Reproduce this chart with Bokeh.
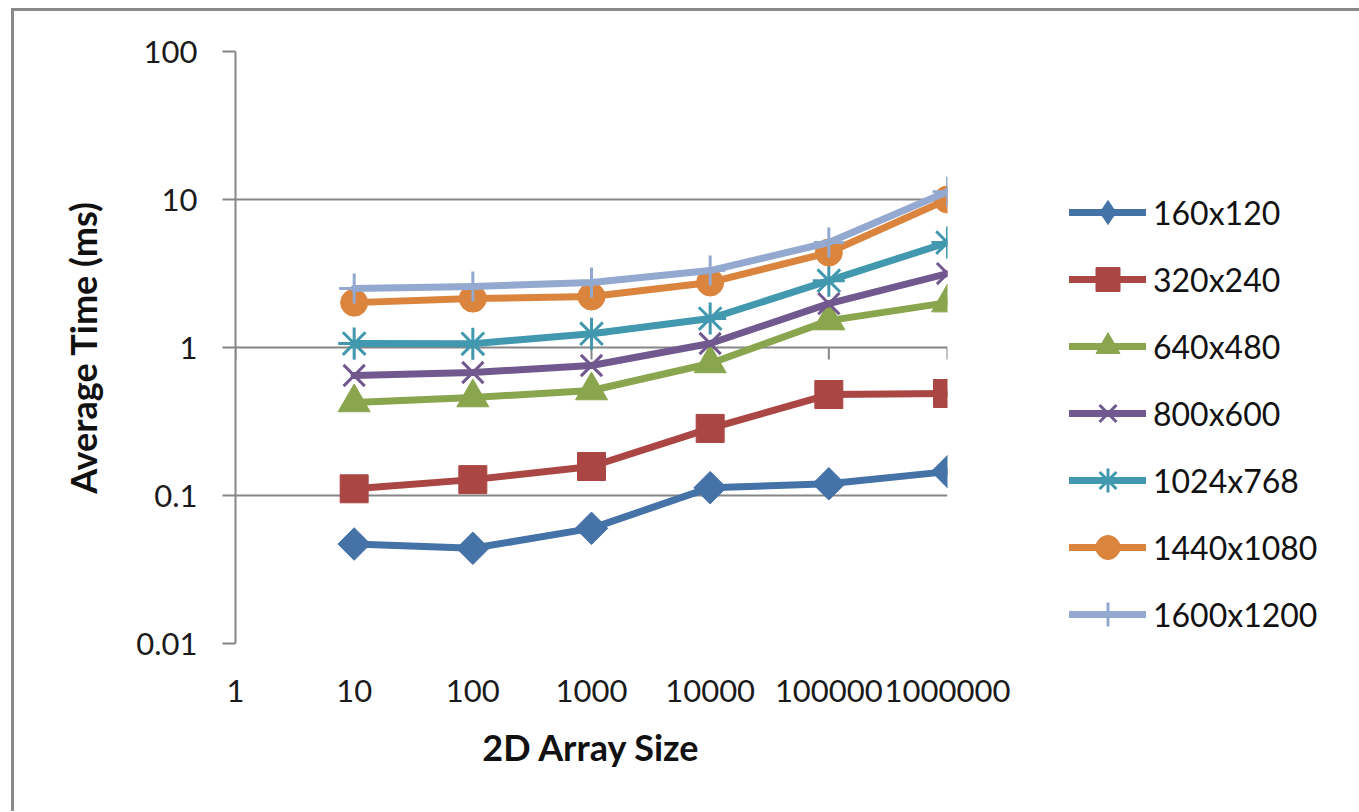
import math
from bokeh.plotting import figure
from bokeh.models import FixedTicker, Legend, LegendItem
from bokeh.embed import file_html
from bokeh.resources import INLINE

# ---------------- data ----------------
sizes = [10, 100, 1000, 10000, 100000, 1000000]
series_names = ["160x120", "320x240", "640x480", "800x600", "1024x768", "1440x1080", "1600x1200"]
t_160x120 = [0.047, 0.044, 0.060, 0.113, 0.120, 0.145]
t_320x240 = [0.111, 0.128, 0.157, 0.284, 0.481, 0.489]
t_640x480 = [0.425, 0.459, 0.512, 0.78, 1.52, 2.01]
t_800x600 = [0.647, 0.678, 0.756, 1.064, 1.98, 3.16]
t_1024x768 = [1.064, 1.06, 1.24, 1.57, 2.83, 5.12]
t_1440x1080 = [2.01, 2.14, 2.21, 2.75, 4.38, 10.0]
t_1600x1200 = [2.50, 2.58, 2.75, 3.31, 5.12, 11.3]
series_values = [t_160x120, t_320x240, t_640x480, t_800x600, t_1024x768, t_1440x1080, t_1600x1200]

x_ticks = [1, 10, 100, 1000, 10000, 100000, 1000000]
x_tick_labels = ["1", "10", "100", "1000", "10000", "100000", "1000000"]
y_ticks = [0.01, 0.1, 1, 10, 100]
y_tick_labels = ["0.01", "0.1", "1", "10", "100"]

# ---------------- styles ----------------
colors = ["#4572A7", "#AA4643", "#89A54E", "#71588F", "#4198AF", "#DB843D", "#93A9CF"]
markers = ["square", "square", "triangle", "x", "asterisk", "circle", "cross"]
legend_markers = ["diamond", "square", "triangle", "x", "asterisk", "circle", "cross"]
angles = [math.pi / 4, 0, 0, 0, 0, 0, 0]
msizes = [23, 28, 32, 30, 32, 27, 30]
GRID = "#868686"
FONT = "Lato"

p = figure(frame_width=712, frame_height=592, x_axis_type="log", y_axis_type="log",
           x_range=(1, 1000000), y_range=(0.01, 100),
           output_backend="svg", toolbar_location=None,
           min_border_left=221, min_border_right=141, min_border_top=40, min_border_bottom=168)
p.styles = {"margin-left": "11px", "margin-top": "8px",
            "border-left": "3px solid #8a8a8a",
            "border-top": "3px solid #8a8a8a", "border-right": "3px solid #8a8a8a"}
p.outline_line_color = None
p.background_fill_color = "white"
p.border_fill_color = "white"

# y axis
p.yaxis.ticker = FixedTicker(ticks=y_ticks, minor_ticks=[])
p.yaxis.major_label_overrides = dict(zip(y_ticks, y_tick_labels))
p.yaxis.axis_line_color = GRID
p.yaxis.axis_line_width = 2
p.yaxis.major_tick_line_color = GRID
p.yaxis.major_tick_line_width = 2
p.yaxis.major_tick_out = 13
p.yaxis.major_tick_in = 0
p.yaxis.minor_tick_line_color = None
p.yaxis.major_label_standoff = 25
p.yaxis.major_label_text_font = FONT
p.yaxis.major_label_text_font_size = "31px"
p.yaxis.major_label_text_color = "#1a1a1a"
p.yaxis.axis_label = "Average Time (ms)"
p.yaxis.axis_label_text_font = FONT
p.yaxis.axis_label_text_font_style = "bold"
p.yaxis.axis_label_text_font_size = "36px"
p.yaxis.axis_label_text_color = "#111111"
p.yaxis.axis_label_standoff = 28

# x axis (labels only at the bottom)
p.xaxis.ticker = FixedTicker(ticks=x_ticks, minor_ticks=[])
p.xaxis.major_label_overrides = dict(zip(x_ticks, x_tick_labels))
p.xaxis.axis_line_color = None
p.xaxis.major_tick_line_color = None
p.xaxis.minor_tick_line_color = None
p.xaxis.major_label_standoff = 30
p.xaxis.major_label_text_font = FONT
p.xaxis.major_label_text_font_size = "31px"
p.xaxis.major_label_text_color = "#1a1a1a"
p.xaxis.axis_label = "2D Array Size"
p.xaxis.axis_label_text_font = FONT
p.xaxis.axis_label_text_font_style = "bold"
p.xaxis.axis_label_text_font_size = "36px"
p.xaxis.axis_label_text_color = "#111111"
p.xaxis.axis_label_standoff = 20

p.xgrid.grid_line_color = None
p.ygrid.grid_line_color = GRID
p.ygrid.grid_line_width = 2
p.ygrid.minor_grid_line_color = None

# horizontal axis crosses at y = 1: tick marks hanging below that line
p.ray(x=x_ticks, y=[1] * len(x_ticks), length=12, length_units="screen",
      angle=-math.pi / 2, line_color=GRID, line_width=2)

items = []
for name, vals, c, m, lm, a, s in zip(series_names, series_values, colors, markers,
                                      legend_markers, angles, msizes):
    ln = p.line(sizes, vals, line_color=c, line_width=7, line_join="round", line_cap="round")
    if m in ("x", "asterisk", "cross"):
        sc = p.scatter(sizes, vals, marker=m, size=s, line_color=c, line_width=3, fill_color=c)
    else:
        sc = p.scatter(sizes, vals, marker=m, size=s, angle=a, line_color=c, fill_color=c, line_width=1)
    rends = [ln, sc]
    if lm != m:
        # legend-only glyph (drawn at zero size on the chart)
        lg = p.scatter(sizes, vals, marker=lm, size=0, line_color=c, fill_color=c, line_width=1)
        rends = [ln, lg]
    items.append(LegendItem(label=name, renderers=rends))

legend = Legend(items=items, location=(122, -1), orientation="vertical",
                glyph_width=77, glyph_height=60, label_height=40, spacing=7,
                label_standoff=7, padding=0, margin=0,
                label_text_font=FONT, label_text_font_size="32px", label_text_color="#111111",
                border_line_color=None, background_fill_alpha=0)
p.add_layout(legend, "right")

open("out.html", "w").write(file_html(p, INLINE))
